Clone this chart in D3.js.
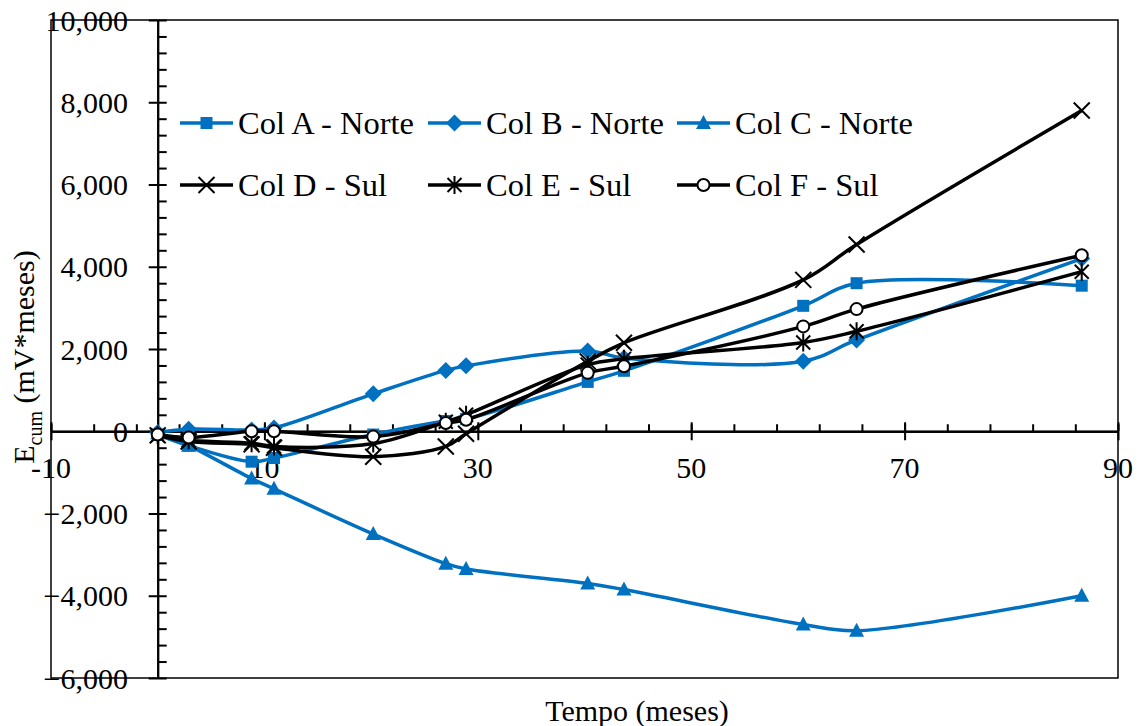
<!DOCTYPE html>
<meta charset="utf-8">
<style>
body { margin: 0; background: #fff; }
svg text { font-family: "Liberation Serif", "Times New Roman", serif; fill: #000; }
.tick text { display: none; }
.axis path, .axis line { stroke: #000; stroke-width: 2px; }
</style>
<svg width="1140" height="726"></svg>
<script src="https://d3js.org/d3.v7.min.js"></script>
<script>

var months = [0, 2.9, 8.8, 10.9, 20.2, 27.0, 28.9, 40.3, 43.7, 60.5, 65.5, 86.6];

var colA = [-80, -350, -740, -650, -80, 250, 300, 1200, 1470, 3050, 3600, 3540];
var colB = [-30, 50, 30, 80, 910, 1480, 1590, 1950, 1780, 1700, 2220, 4200];
var colC = [-50, -350, -1150, -1400, -2500, -3220, -3350, -3700, -3850, -4700, -4850, -4000];
var colD = [-100, -250, -320, -400, -620, -370, -60, 1700, 2150, 3680, 4540, 7800];
var colE = [-100, -220, -290, -370, -300, 230, 400, 1620, 1760, 2160, 2430, 3880];
var colF = [-80, -150, 0, 0, -130, 200, 280, 1420, 1580, 2550, 2970, 4280];

var seriesNames = ["Col A - Norte", "Col B - Norte", "Col C - Norte", "Col D - Sul", "Col E - Sul", "Col F - Sul"];
var xTickLabels = [-10, 10, 30, 50, 70, 90];
var yTickLabels = [-6000, -4000, -2000, 0, 2000, 4000, 6000, 8000, 10000];

var blue = "#0070C0";
var series = [
	{name: seriesNames[0], values: colA, color: blue, marker: "square"},
	{name: seriesNames[1], values: colB, color: blue, marker: "diamond"},
	{name: seriesNames[2], values: colC, color: blue, marker: "triangle"},
	{name: seriesNames[3], values: colD, color: "#000", marker: "x"},
	{name: seriesNames[4], values: colE, color: "#000", marker: "asterisk"},
	{name: seriesNames[5], values: colF, color: "#000", marker: "circle"}
];

var svg = d3.select("svg");
var plotLeft = 51, plotRight = 1118, plotTop = 20, plotBottom = 678;

var x = d3.scaleLinear().domain([-10, 90]).range([plotLeft, plotRight]);
var y = d3.scaleLinear().domain([-6000, 10000]).range([plotBottom, plotTop]);

// plot frame
svg.append("rect")
	.attr("x", plotLeft).attr("y", plotTop)
	.attr("width", plotRight - plotLeft).attr("height", plotBottom - plotTop)
	.attr("fill", "none").attr("stroke", "#000").attr("stroke-width", 1.5);

var x0 = x(0), y0 = y(0);

// y axis (at x = 0)
var yMinor = d3.range(-6000, 10001, 400);
svg.append("g").attr("class", "axis")
	.attr("transform", "translate(" + x0 + ",0)")
	.call(d3.axisRight(y).tickValues(yMinor).tickSize(9).tickSizeOuter(0));
svg.append("g").attr("class", "axis")
	.attr("transform", "translate(" + x0 + ",0)")
	.call(d3.axisLeft(y).tickValues(yTickLabels).tickSize(9).tickSizeOuter(0));

svg.append("g").selectAll("text")
	.data(yTickLabels)
	.join("text")
	.attr("x", 128)
	.attr("y", function(d) { return y(d); })
	.attr("dy", "0.35em")
	.attr("text-anchor", "end")
	.style("font-size", "30px")
	.text(function(d) { return d3.format(",")(d); });

// x axis (at y = 0)
var xMinor = d3.range(-10, 90.1, 4);
svg.append("g").attr("class", "axis")
	.attr("transform", "translate(0," + y0 + ")")
	.call(d3.axisTop(x).tickValues(xMinor).tickSize(7).tickSizeOuter(0));
svg.append("g").attr("class", "axis")
	.attr("transform", "translate(0," + y0 + ")")
	.call(d3.axisTop(x).tickValues(xTickLabels).tickSize(9).tickSizeOuter(0));
svg.append("g").attr("class", "axis")
	.attr("transform", "translate(0," + y0 + ")")
	.call(d3.axisBottom(x).tickValues(xTickLabels).tickSize(9).tickSizeOuter(0));

svg.append("g").selectAll("text")
	.data(xTickLabels)
	.join("text")
	.attr("x", function(d) { return x(d); })
	.attr("y", y0 + 47)
	.attr("text-anchor", "middle")
	.style("font-size", "30px")
	.text(function(d) { return d; });

// axis titles
svg.append("text")
	.attr("x", 637).attr("y", 721)
	.attr("text-anchor", "middle")
	.style("font-size", "30px")
	.text("Tempo (meses)");

var yt = svg.append("text")
	.attr("transform", "translate(34,357) rotate(-90)")
	.attr("text-anchor", "middle")
	.style("font-size", "30px");
yt.append("tspan").text("E");
yt.append("tspan").attr("dy", 8).style("font-size", "20px").text("cum");
yt.append("tspan").attr("dy", -8).text(" (mV*meses)");

// markers
function drawMarker(g, type, color) {
	if (type === "square") {
		g.append("rect").attr("x", -6).attr("y", -6).attr("width", 12).attr("height", 12).attr("fill", color);
	} else if (type === "diamond") {
		g.append("path").attr("d", "M0,-8.5L8.5,0L0,8.5L-8.5,0Z").attr("fill", color);
	} else if (type === "triangle") {
		g.append("path").attr("d", "M0,-8L7.5,6L-7.5,6Z").attr("fill", color);
	} else if (type === "x") {
		g.append("path").attr("d", "M-8,-8L8,8M-8,8L8,-8").attr("stroke", color).attr("stroke-width", 2).attr("fill", "none");
	} else if (type === "asterisk") {
		g.append("path").attr("d", "M-7,-7L7,7M-7,7L7,-7M0,-9L0,9").attr("stroke", color).attr("stroke-width", 2).attr("fill", "none");
	} else if (type === "circle") {
		g.append("circle").attr("r", 6).attr("fill", "#fff").attr("stroke", color).attr("stroke-width", 2);
	}
}

var line = d3.line()
	.x(function(d) { return x(d[0]); })
	.y(function(d) { return y(d[1]); })
	.curve(d3.curveCatmullRom.alpha(0.5));

series.forEach(function(s) {
	var pts = months.map(function(m, i) { return [m, s.values[i]]; });
	var g = svg.append("g");
	g.append("path")
		.attr("d", line(pts))
		.attr("fill", "none")
		.attr("stroke", s.color)
		.attr("stroke-width", 3.5);
	g.selectAll("g.mk")
		.data(pts)
		.join("g")
		.attr("class", "mk")
		.attr("transform", function(d) { return "translate(" + x(d[0]) + "," + y(d[1]) + ")"; })
		.each(function() { drawMarker(d3.select(this), s.marker, s.color); });
});

// legend
var legendPos = [[180, 123], [428, 123], [677, 123], [180, 185], [428, 185], [677, 185]];
series.forEach(function(s, i) {
	var p = legendPos[i];
	var g = svg.append("g").attr("transform", "translate(" + p[0] + "," + p[1] + ")");
	g.append("line").attr("x1", 0).attr("x2", 53).attr("y1", 0).attr("y2", 0)
		.attr("stroke", s.color).attr("stroke-width", 3.5);
	drawMarker(g.append("g").attr("transform", "translate(26.5,0)"), s.marker, s.color);
	g.append("text").attr("x", 58).attr("y", 0).attr("dy", "0.35em")
		.style("font-size", "32.5px")
		.text(s.name);
});

</script>
